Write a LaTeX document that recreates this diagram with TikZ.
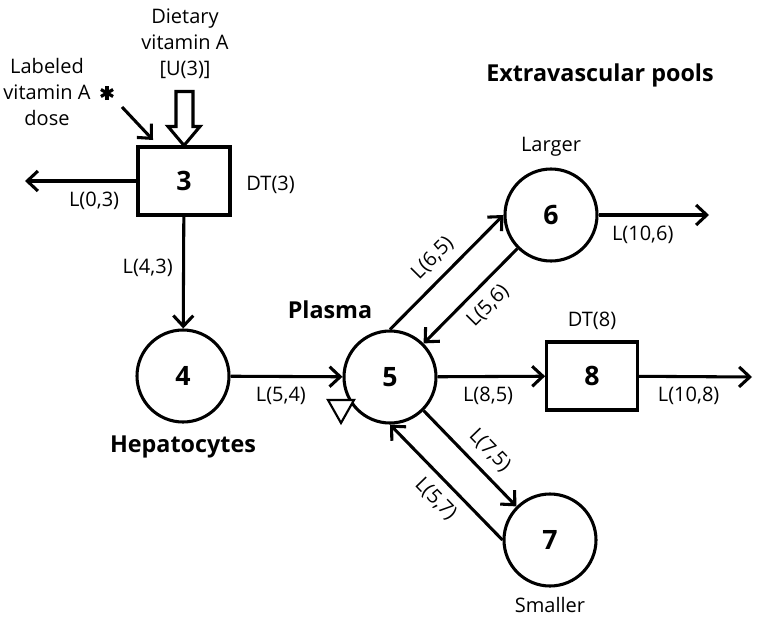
\documentclass[tikz,border=0pt]{standalone}
\usepackage{fontspec}
\setmainfont{Open Sans}
\usetikzlibrary{arrows.meta, positioning}

\tikzset{
  pool/.style={circle, draw, line width=2.3pt, minimum size=69pt, inner sep=0pt,
    font=\fontsize{20}{24}\selectfont\bfseries},
  delay/.style={rectangle, draw, line width=2.3pt, minimum width=69pt, minimum height=51pt,
    inner sep=0pt, font=\fontsize{20}{24}\selectfont\bfseries},
  flow/.style={line width=2.3pt, -{Straight Barb[length=8pt,width=15pt]}},
  rate/.style={font=\fontsize{15}{19}\selectfont, inner sep=2pt},
  edgelab/.style={rate, inner sep=7pt},
  title/.style={font=\fontsize{17.5}{21}\selectfont\bfseries},
}

\begin{document}
\begin{tikzpicture}[x=0.75pt, y=-0.75pt]
        % Marco y compartimentos
        \useasboundingbox (0,0) rectangle (757,621);
        \node[delay] (b3) at (184,181) {3};
        \node[pool] (c4) at (183,376) {4};
        \node[pool] (c5) at (390,377) {5};
        \node[pool] (c6) at (551,215) {6};
        \node[pool] (c7) at (550,540) {7};
        \node[delay, minimum width=68pt] (b8) at (592,376) {8};

        \coordinate (out3) at (25,181);
        \coordinate (out6) at (709,215);
        \coordinate (out8) at (752,377);
        \coordinate (dose) at (122,107);
        \coordinate (dosetip) at (153,140);

        % Textos
        \node[rate, align=center, font=\fontsize{15}{19.5}\selectfont] (diet) at (185,44) {Dietary\\vitamin A\\{[U(3)]}};
        \node[rate, align=center, font=\fontsize{15}{19.5}\selectfont] (label) at (47,92) {Labeled\\vitamin A\\dose};
        \node[rate, right=9pt of b3, yshift=-3] (dt3) {DT(3)};
        \node[rate, above=6pt of b8] (dt8) {DT(8)};
        \node[rate, above=6pt of c6] (larger) {Larger};
        \node[rate, below=5pt of c7] (smaller) {Smaller};
        \node[title, below=6pt of c4] (hep) {Hepatocytes};
        \node[title] (plasma) at (330,310) {Plasma};
        \node[title] (extra) at (600,75) {Extravascular pools};

        % Flujos
        \draw[flow] (b3) -- node[edgelab, below, pos=0.38] {L(0,3)} (out3);
        \draw[flow] (b3) -- node[edgelab, left, pos=0.46] {L(4,3)} (c4);
        \draw[flow] (c4) -- node[edgelab, below, pos=0.45] {L(5,4)} (c5);
        \draw[flow] (c5) -- node[edgelab, below, pos=0.47] {L(8,5)} (b8);
        \draw[flow] (b8) -- node[edgelab, below, pos=0.44] {L(10,8)} (out8);
        \draw[flow] (c6) -- node[edgelab, below, pos=0.4] {L(10,6)} (out6);
        \draw[flow] (c5.north) -- node[edgelab, sloped, above, pos=0.5] {L(6,5)} (c6.west);
        \draw[flow] (c6.south west) -- node[edgelab, sloped, below, pos=0.46] {L(5,6)} (c5.north east);
        \draw[flow] (c5.south east) -- node[edgelab, sloped, above, pos=0.56] {L(7,5)} (c7.north west);
        \draw[flow] (c7.west) -- node[edgelab, sloped, below, pos=0.47] {L(5,7)} (c5.south);
        \draw[flow] (dose) -- (dosetip);

        % Entrada de la dieta
        \draw[line width=2.3pt] (b3.north) -- ++(-16,-19) -- ++(8,0) -- ++(0,-35) -- ++(17,0)
          -- ++(0,35) -- ++(7,0) -- cycle;
        \foreach \a in {90,30,150}
            \draw[line width=2.4pt] (107,93) ++(\a:7) -- ++(\a+180:14);
        \draw[line width=1.6pt, fill=white] (328,400) -- (354,400) -- (341,423) -- cycle;
\end{tikzpicture}
\end{document}
